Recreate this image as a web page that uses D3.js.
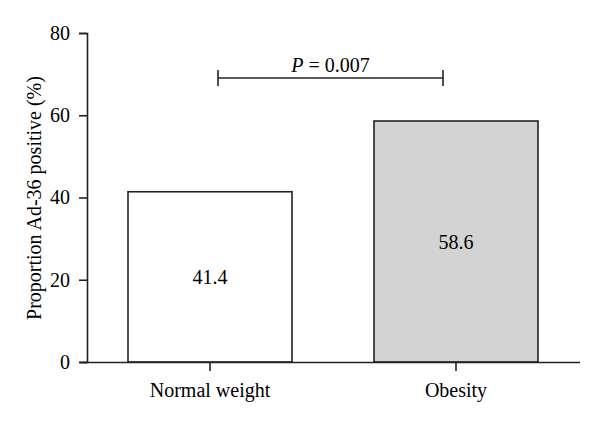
<!DOCTYPE html>
<html><head><meta charset="utf-8">
<script src="https://cdn.jsdelivr.net/npm/d3@7"></script>
<style>body{margin:0;background:#fff}svg{display:block}text{font-family:"Liberation Serif","Times New Roman",serif;fill:#000}</style>
</head><body><svg id="c" width="600" height="423"></svg>
<script>
const categories = ["Normal weight", "Obesity"];
const values = [41.4, 58.6];
const fills = ["#ffffff", "#d3d3d3"];
const yTicks = [0, 20, 40, 60, 80];
const pLabel = "0.007";

const FS = 20;
const svg = d3.select("#c");
const y = d3.scaleLinear().domain([0, 80]).range([362, 33]);
const x = d3.scaleBand().domain(categories).range([87, 579]).paddingInner(1/3).paddingOuter(1/6);

// bars
svg.selectAll("rect.bar").data(values).enter().append("rect")
  .attr("x", (d, i) => x(categories[i]))
  .attr("width", x.bandwidth())
  .attr("y", d => y(d))
  .attr("height", d => y(0) - y(d))
  .attr("fill", (d, i) => fills[i])
  .attr("stroke", "#222").attr("stroke-width", 1.6);

svg.selectAll("text.val").data(values).enter().append("text")
  .attr("x", (d, i) => x(categories[i]) + x.bandwidth() / 2)
  .attr("y", d => (y(d) + y(0)) / 2)
  .attr("dy", "0.35em")
  .attr("text-anchor", "middle").attr("font-size", FS)
  .text(d => d.toFixed(1));

// y axis
const ya = svg.append("g").attr("transform", "translate(87,0)")
  .call(d3.axisLeft(y).tickValues(yTicks).tickSize(8).tickPadding(9).tickFormat(d3.format("d")));
ya.selectAll("text").attr("font-size", FS).style("font-family", '"Liberation Serif",serif');
ya.selectAll("line,path").attr("stroke", "#222").attr("stroke-width", 1.6);

// x axis
const xa = svg.append("g").attr("transform", "translate(0,362)")
  .call(d3.axisBottom(x).tickSize(9).tickPadding(12).tickSizeOuter(0));
xa.select("path.domain").attr("d", "M80,0.5H580");
xa.selectAll("text").attr("font-size", FS).style("font-family", '"Liberation Serif",serif');
xa.selectAll("line,path").attr("stroke", "#222").attr("stroke-width", 1.6);

// y label
svg.append("text")
  .attr("transform", "translate(41,198) rotate(-90)")
  .attr("text-anchor", "middle").attr("font-size", FS)
  .text("Proportion Ad-36 positive (%)");

// significance bracket
const bx1 = x(categories[0]) + x.bandwidth() / 2 + 8;
const bx2 = x(categories[1]) + x.bandwidth() / 2 - 13;
const by = 78;
const br = svg.append("g").attr("stroke", "#222").attr("stroke-width", 1.6);
br.append("line").attr("x1", bx1).attr("x2", bx2).attr("y1", by).attr("y2", by);
br.append("line").attr("x1", bx1).attr("x2", bx1).attr("y1", by - 8).attr("y2", by + 8);
br.append("line").attr("x1", bx2).attr("x2", bx2).attr("y1", by - 8).attr("y2", by + 8);
const pt = svg.append("text").attr("x", (bx1 + bx2) / 2).attr("y", 72)
  .attr("text-anchor", "middle").attr("font-size", FS);
pt.append("tspan").attr("font-style", "italic").text("P");
pt.append("tspan").text(" = " + pLabel);
</script></body></html>
